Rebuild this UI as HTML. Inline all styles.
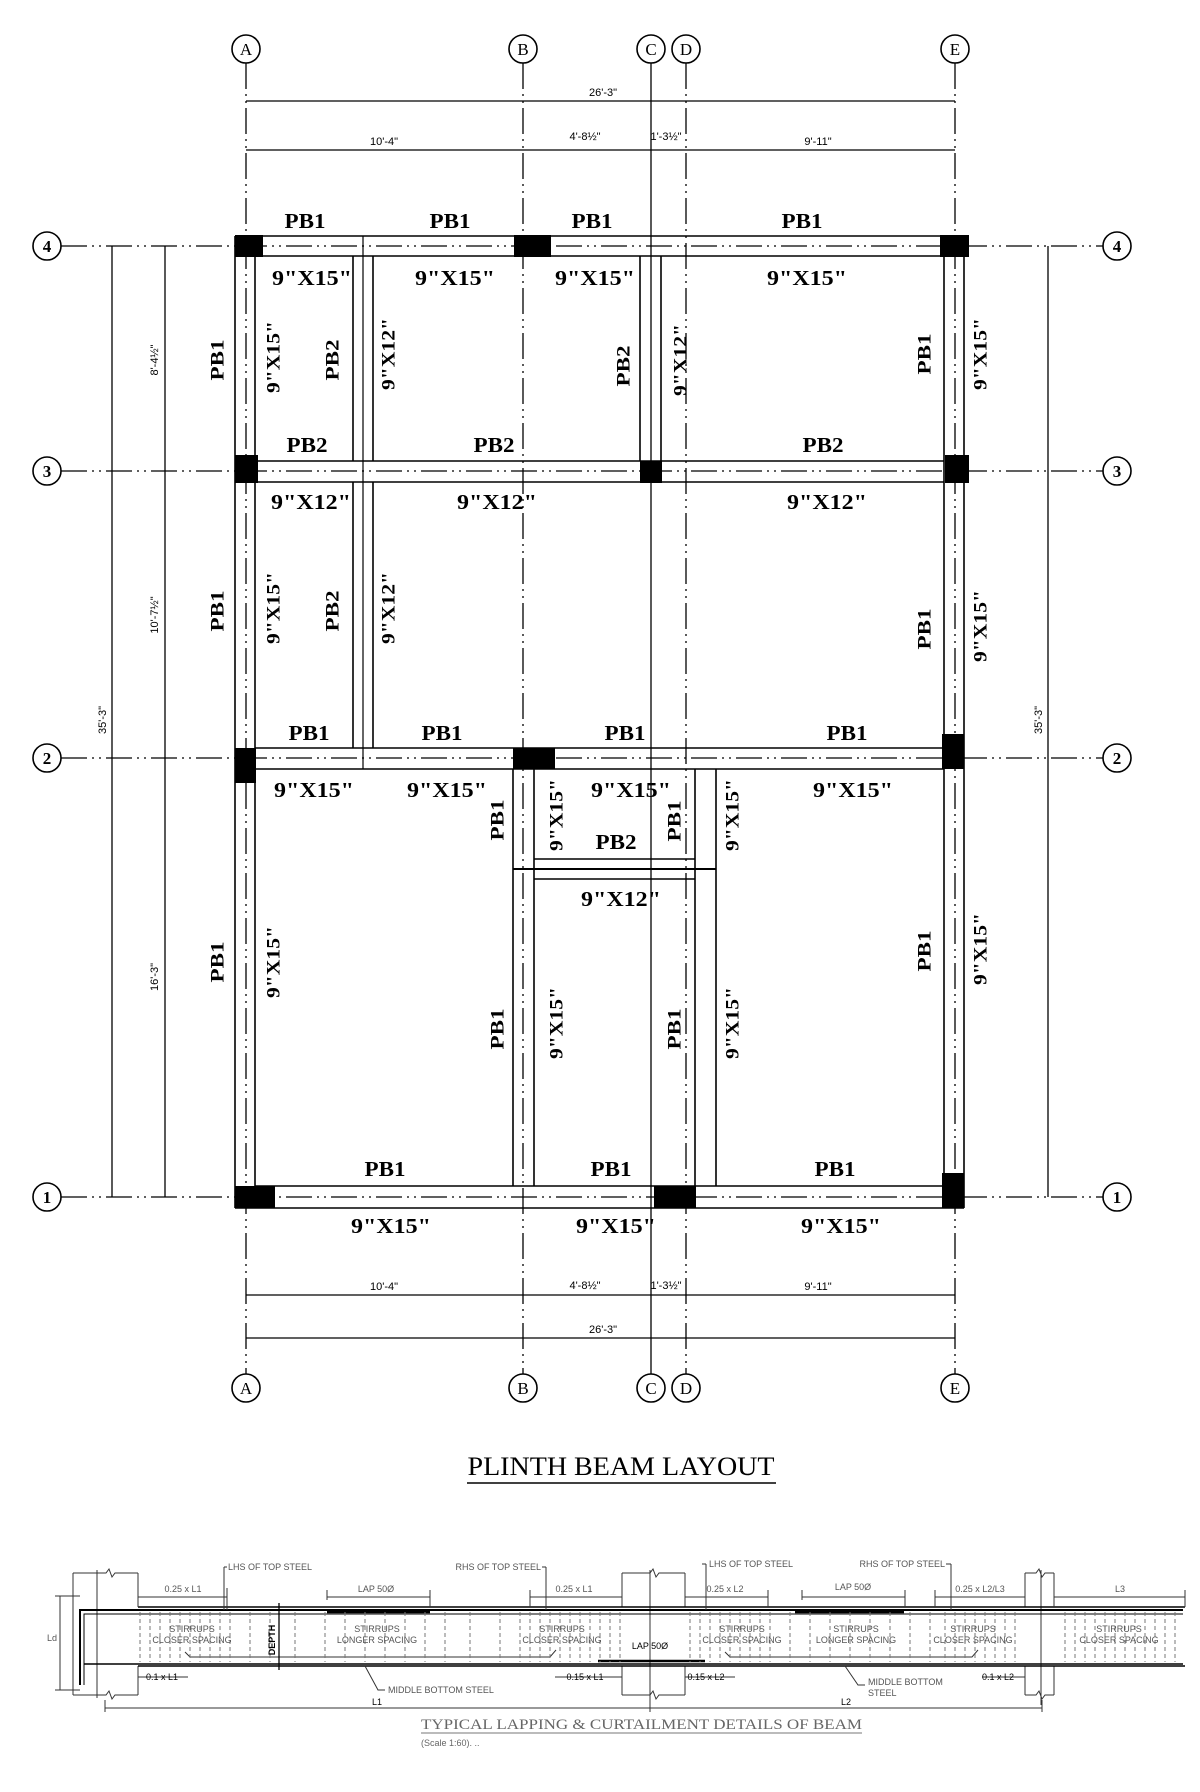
<!DOCTYPE html>
<html><head><meta charset="utf-8"><style>
html,body{margin:0;padding:0;background:#fff;}
svg{display:block;}
.b{font-family:"Liberation Serif",serif;font-weight:bold;fill:#000;}
.d{font-family:"Liberation Sans",sans-serif;fill:#000;font-size:11px;}
.s{font-family:"Liberation Sans",sans-serif;fill:#555;font-size:9px;}
</style></head><body>
<svg width="1200" height="1792" viewBox="0 0 1200 1792" xmlns="http://www.w3.org/2000/svg">
<rect width="1200" height="1792" fill="#fff"/>
<g stroke="#000" stroke-width="1.3" fill="none" stroke-dasharray="26 5 2 5 2 5">
<line x1="246" y1="63" x2="246" y2="1374"/>
<line x1="523" y1="63" x2="523" y2="1374"/>
<line x1="686" y1="63" x2="686" y2="1374"/>
<line x1="955" y1="63" x2="955" y2="1374"/>
<line x1="61" y1="246" x2="1103" y2="246"/>
<line x1="61" y1="471" x2="1103" y2="471"/>
<line x1="61" y1="758" x2="1103" y2="758"/>
<line x1="61" y1="1197" x2="1103" y2="1197"/>
</g>
<line x1="651" y1="63" x2="651" y2="1374" stroke="#000" stroke-width="1.3"/>
<g stroke="#000" stroke-width="1.6" fill="#fff">
<circle cx="246" cy="49" r="14"/><circle cx="523" cy="49" r="14"/><circle cx="651" cy="49" r="14"/><circle cx="686" cy="49" r="14"/><circle cx="955" cy="49" r="14"/>
<circle cx="246" cy="1388" r="14"/><circle cx="523" cy="1388" r="14"/><circle cx="651" cy="1388" r="14"/><circle cx="686" cy="1388" r="14"/><circle cx="955" cy="1388" r="14"/>
<circle cx="47" cy="246" r="14"/><circle cx="47" cy="471" r="14"/><circle cx="47" cy="758" r="14"/><circle cx="47" cy="1197" r="14"/>
<circle cx="1117" cy="246" r="14"/><circle cx="1117" cy="471" r="14"/><circle cx="1117" cy="758" r="14"/><circle cx="1117" cy="1197" r="14"/>
</g>
<g class="b" font-size="17" text-anchor="middle" style="font-weight:normal">
<text x="246" y="55">A</text><text x="523" y="55">B</text><text x="651" y="55">C</text><text x="686" y="55">D</text><text x="955" y="55">E</text>
<text x="246" y="1394">A</text><text x="523" y="1394">B</text><text x="651" y="1394">C</text><text x="686" y="1394">D</text><text x="955" y="1394">E</text>
</g>
<g class="b" font-size="17" text-anchor="middle">
<text x="47" y="252">4</text><text x="47" y="477">3</text><text x="47" y="764">2</text><text x="47" y="1203">1</text>
<text x="1117" y="252">4</text><text x="1117" y="477">3</text><text x="1117" y="764">2</text><text x="1117" y="1203">1</text>
</g>
<g stroke="#000" stroke-width="1.3">
<line x1="246" y1="101" x2="955" y2="101"/><line x1="246" y1="150" x2="955" y2="150"/>
<line x1="246" y1="1295" x2="955" y2="1295"/><line x1="246" y1="1338" x2="955" y2="1338"/>
<line x1="112" y1="246" x2="112" y2="1197"/><line x1="165" y1="246" x2="165" y2="1197"/>
<line x1="1048" y1="246" x2="1048" y2="1197"/>
</g>
<g class="d" text-anchor="middle">
<text x="603" y="96">26'-3"</text>
<text x="384" y="145">10'-4"</text><text x="585" y="140">4'-8½"</text><text x="666" y="140">1'-3½"</text><text x="818" y="145">9'-11"</text>
<text x="384" y="1290">10'-4"</text><text x="585" y="1289">4'-8½"</text><text x="666" y="1289">1'-3½"</text><text x="818" y="1290">9'-11"</text>
<text x="603" y="1333">26'-3"</text>
<text transform="translate(158,360) rotate(-90)">8'-4½"</text>
<text transform="translate(158,615) rotate(-90)">10'-7½"</text>
<text transform="translate(158,977) rotate(-90)">16'-3"</text>
<text transform="translate(106,720) rotate(-90)">35'-3"</text>
<text transform="translate(1042,720) rotate(-90)">35'-3"</text>
</g>
<g stroke="#000" stroke-width="1.6" fill="none">
<line x1="235" y1="236" x2="969" y2="236"/><line x1="255" y1="256" x2="944" y2="256"/>
<line x1="255" y1="461" x2="944" y2="461"/><line x1="255" y1="482" x2="944" y2="482"/>
<line x1="255" y1="748" x2="944" y2="748"/><line x1="255" y1="769" x2="944" y2="769"/>
<line x1="255" y1="1186" x2="944" y2="1186"/><line x1="235" y1="1208" x2="964" y2="1208"/>
<line x1="534" y1="859" x2="695" y2="859"/><line x1="534" y1="879" x2="695" y2="879"/>
<line x1="513" y1="869" x2="716" y2="869" stroke-width="2"/>
<line x1="235" y1="236" x2="235" y2="1208"/><line x1="255" y1="256" x2="255" y2="1186"/>
<line x1="944" y1="256" x2="944" y2="1186"/><line x1="964" y1="236" x2="964" y2="1208"/>
<line x1="353" y1="256" x2="353" y2="461"/><line x1="373" y1="256" x2="373" y2="461"/>
<line x1="353" y1="482" x2="353" y2="748"/><line x1="373" y1="482" x2="373" y2="748"/>
<line x1="363" y1="236" x2="363" y2="769" stroke-width="1.2"/>
<line x1="640" y1="256" x2="640" y2="461"/><line x1="661" y1="256" x2="661" y2="461"/>
<line x1="513" y1="769" x2="513" y2="1186"/><line x1="534" y1="769" x2="534" y2="1186"/>
<line x1="695" y1="769" x2="695" y2="1186"/><line x1="716" y1="769" x2="716" y2="1186"/>
</g>
<g fill="#000">
<rect x="235" y="235" width="28" height="22"/><rect x="514" y="235" width="37" height="22"/><rect x="940" y="235" width="29" height="22"/>
<rect x="235" y="455" width="23" height="28"/><rect x="640" y="461" width="22" height="22"/><rect x="945" y="455" width="24" height="28"/>
<rect x="235" y="748" width="21" height="35"/><rect x="513" y="748" width="42" height="21"/><rect x="942" y="734" width="22" height="35"/>
<rect x="235" y="1186" width="40" height="22"/><rect x="654" y="1186" width="42" height="22"/><rect x="942" y="1173" width="22" height="35"/>
</g>
<g class="b" font-size="21" text-anchor="middle">
<text x="305" y="228" textLength="41" lengthAdjust="spacingAndGlyphs">PB1</text>
<text x="450" y="228" textLength="41" lengthAdjust="spacingAndGlyphs">PB1</text>
<text x="592" y="228" textLength="41" lengthAdjust="spacingAndGlyphs">PB1</text>
<text x="802" y="228" textLength="41" lengthAdjust="spacingAndGlyphs">PB1</text>
<text x="312" y="285" textLength="80" lengthAdjust="spacingAndGlyphs">9"X15"</text>
<text x="455" y="285" textLength="80" lengthAdjust="spacingAndGlyphs">9"X15"</text>
<text x="595" y="285" textLength="80" lengthAdjust="spacingAndGlyphs">9"X15"</text>
<text x="807" y="285" textLength="80" lengthAdjust="spacingAndGlyphs">9"X15"</text>
<text x="307" y="452" textLength="41" lengthAdjust="spacingAndGlyphs">PB2</text>
<text x="494" y="452" textLength="41" lengthAdjust="spacingAndGlyphs">PB2</text>
<text x="823" y="452" textLength="41" lengthAdjust="spacingAndGlyphs">PB2</text>
<text x="311" y="509" textLength="80" lengthAdjust="spacingAndGlyphs">9"X12"</text>
<text x="497" y="509" textLength="80" lengthAdjust="spacingAndGlyphs">9"X12"</text>
<text x="827" y="509" textLength="80" lengthAdjust="spacingAndGlyphs">9"X12"</text>
<text x="309" y="740" textLength="41" lengthAdjust="spacingAndGlyphs">PB1</text>
<text x="442" y="740" textLength="41" lengthAdjust="spacingAndGlyphs">PB1</text>
<text x="625" y="740" textLength="41" lengthAdjust="spacingAndGlyphs">PB1</text>
<text x="847" y="740" textLength="41" lengthAdjust="spacingAndGlyphs">PB1</text>
<text x="314" y="797" textLength="80" lengthAdjust="spacingAndGlyphs">9"X15"</text>
<text x="447" y="797" textLength="80" lengthAdjust="spacingAndGlyphs">9"X15"</text>
<text x="631" y="797" textLength="80" lengthAdjust="spacingAndGlyphs">9"X15"</text>
<text x="853" y="797" textLength="80" lengthAdjust="spacingAndGlyphs">9"X15"</text>
<text x="616" y="849" textLength="41" lengthAdjust="spacingAndGlyphs">PB2</text>
<text x="621" y="906" textLength="80" lengthAdjust="spacingAndGlyphs">9"X12"</text>
<text x="385" y="1176" textLength="41" lengthAdjust="spacingAndGlyphs">PB1</text>
<text x="611" y="1176" textLength="41" lengthAdjust="spacingAndGlyphs">PB1</text>
<text x="835" y="1176" textLength="41" lengthAdjust="spacingAndGlyphs">PB1</text>
<text x="391" y="1233" textLength="80" lengthAdjust="spacingAndGlyphs">9"X15"</text>
<text x="616" y="1233" textLength="80" lengthAdjust="spacingAndGlyphs">9"X15"</text>
<text x="841" y="1233" textLength="80" lengthAdjust="spacingAndGlyphs">9"X15"</text>
</g>
<g class="b" font-size="19" text-anchor="middle" dominant-baseline="central">
<text transform="translate(218,360) rotate(-90)" textLength="41" lengthAdjust="spacingAndGlyphs">PB1</text>
<text transform="translate(274,357) rotate(-90)" textLength="72" lengthAdjust="spacingAndGlyphs">9"X15"</text>
<text transform="translate(333,360) rotate(-90)" textLength="41" lengthAdjust="spacingAndGlyphs">PB2</text>
<text transform="translate(389,354) rotate(-90)" textLength="72" lengthAdjust="spacingAndGlyphs">9"X12"</text>
<text transform="translate(624,366) rotate(-90)" textLength="41" lengthAdjust="spacingAndGlyphs">PB2</text>
<text transform="translate(681,360) rotate(-90)" textLength="72" lengthAdjust="spacingAndGlyphs">9"X12"</text>
<text transform="translate(925,354) rotate(-90)" textLength="41" lengthAdjust="spacingAndGlyphs">PB1</text>
<text transform="translate(981,354) rotate(-90)" textLength="72" lengthAdjust="spacingAndGlyphs">9"X15"</text>
<text transform="translate(218,611) rotate(-90)" textLength="41" lengthAdjust="spacingAndGlyphs">PB1</text>
<text transform="translate(274,608) rotate(-90)" textLength="72" lengthAdjust="spacingAndGlyphs">9"X15"</text>
<text transform="translate(333,611) rotate(-90)" textLength="41" lengthAdjust="spacingAndGlyphs">PB2</text>
<text transform="translate(389,608) rotate(-90)" textLength="72" lengthAdjust="spacingAndGlyphs">9"X12"</text>
<text transform="translate(925,629) rotate(-90)" textLength="41" lengthAdjust="spacingAndGlyphs">PB1</text>
<text transform="translate(981,626) rotate(-90)" textLength="72" lengthAdjust="spacingAndGlyphs">9"X15"</text>
<text transform="translate(498,820) rotate(-90)" textLength="41" lengthAdjust="spacingAndGlyphs">PB1</text>
<text transform="translate(557,815) rotate(-90)" textLength="72" lengthAdjust="spacingAndGlyphs">9"X15"</text>
<text transform="translate(675,821) rotate(-90)" textLength="41" lengthAdjust="spacingAndGlyphs">PB1</text>
<text transform="translate(733,815) rotate(-90)" textLength="72" lengthAdjust="spacingAndGlyphs">9"X15"</text>
<text transform="translate(218,962) rotate(-90)" textLength="41" lengthAdjust="spacingAndGlyphs">PB1</text>
<text transform="translate(274,962) rotate(-90)" textLength="72" lengthAdjust="spacingAndGlyphs">9"X15"</text>
<text transform="translate(498,1029) rotate(-90)" textLength="41" lengthAdjust="spacingAndGlyphs">PB1</text>
<text transform="translate(557,1023) rotate(-90)" textLength="72" lengthAdjust="spacingAndGlyphs">9"X15"</text>
<text transform="translate(675,1029) rotate(-90)" textLength="41" lengthAdjust="spacingAndGlyphs">PB1</text>
<text transform="translate(733,1023) rotate(-90)" textLength="72" lengthAdjust="spacingAndGlyphs">9"X15"</text>
<text transform="translate(925,951) rotate(-90)" textLength="41" lengthAdjust="spacingAndGlyphs">PB1</text>
<text transform="translate(981,949) rotate(-90)" textLength="72" lengthAdjust="spacingAndGlyphs">9"X15"</text>
</g>
<text x="621" y="1475" font-family="Liberation Serif,serif" font-size="26" text-anchor="middle" textLength="307" lengthAdjust="spacingAndGlyphs">PLINTH BEAM LAYOUT</text>
<line x1="467" y1="1483" x2="776" y2="1483" stroke="#000" stroke-width="1.5"/>

<g stroke="#333" stroke-width="1" fill="none">
<path d="M73 1573 H106 l3 -4 l3 8 l3 -4 H138 M73 1695 H106 l3 -4 l3 8 l3 -4 H138 M73 1573 V1695 M138 1573 V1607 M138 1666 V1695"/>
<path d="M622 1573 H650 l3 -4 l3 8 l3 -4 H685 M622 1695 H650 l3 -4 l3 8 l3 -4 H685 M622 1573 V1607 M685 1573 V1607 M622 1666 V1695 M685 1666 V1695"/>
<path d="M1025 1573 H1036 l3 -4 l3 8 l3 -4 H1054 M1025 1695 H1036 l3 -4 l3 8 l3 -4 H1054 M1025 1573 V1607 M1054 1573 V1607 M1025 1666 V1695 M1054 1666 V1695"/>
<line x1="97" y1="1570" x2="97" y2="1698"/><line x1="650" y1="1570" x2="650" y2="1700"/><line x1="1041" y1="1570" x2="1041" y2="1705"/>
<line x1="138" y1="1607" x2="1185" y2="1607" stroke="#000" stroke-width="1.5"/>
<line x1="138" y1="1666" x2="1185" y2="1666" stroke="#000" stroke-width="1.5"/>
<path d="M80 1685 V1610 H1183" stroke="#000" stroke-width="2"/>
<path d="M84 1685 V1614 H1183" stroke="#000" stroke-width="1"/>
<path d="M84 1664 H1183" stroke="#000" stroke-width="1.5"/>
<line x1="327" y1="1612" x2="430" y2="1612" stroke="#000" stroke-width="2.5"/>
<line x1="795" y1="1612" x2="904" y2="1612" stroke="#000" stroke-width="2.5"/>
<line x1="598" y1="1661" x2="705" y2="1661" stroke="#000" stroke-width="2.5"/>
<path d="M185 1652 L190 1657 H550 L556 1650"/>
<path d="M725 1652 L730 1657 H972 L978 1650"/>
<g stroke="#777" stroke-dasharray="4 3">
<path d="M140 1612V1662M150 1612V1662M160 1612V1662M170 1612V1662M180 1612V1662M190 1612V1662M200 1612V1662M210 1612V1662M220 1612V1662M230 1612V1662M250 1612V1662M270 1612V1662M295 1612V1662M325 1612V1662M345 1612V1662M365 1612V1662M385 1612V1662M405 1612V1662M425 1612V1662M445 1612V1662M470 1612V1662M500 1612V1662M520 1612V1662M530 1612V1662M540 1612V1662M550 1612V1662M560 1612V1662M570 1612V1662M580 1612V1662M590 1612V1662M600 1612V1662M610 1612V1662M620 1612V1662"/>
<path d="M690 1612V1662M700 1612V1662M710 1612V1662M720 1612V1662M730 1612V1662M740 1612V1662M750 1612V1662M760 1612V1662M770 1612V1662M790 1612V1662M810 1612V1662M830 1612V1662M850 1612V1662M870 1612V1662M890 1612V1662M910 1612V1662M930 1612V1662M945 1612V1662M955 1612V1662M965 1612V1662M975 1612V1662M985 1612V1662M995 1612V1662M1005 1612V1662M1015 1612V1662"/>
<path d="M1065 1612V1662M1075 1612V1662M1085 1612V1662M1095 1612V1662M1105 1612V1662M1115 1612V1662M1125 1612V1662M1135 1612V1662M1145 1612V1662M1155 1612V1662M1165 1612V1662M1175 1612V1662"/>
</g>
<line x1="279" y1="1603" x2="279" y2="1670" stroke="#000" stroke-width="1.3"/>
<path d="M138 1597 H227 M327 1597 H430 M530 1597 H622 M685 1597 H768 M802 1597 H905 M935 1597 H1025 M1054 1597 H1185"/>
<path d="M138 1597V1607 M227 1588V1610 M327 1590V1600 M430 1590V1607 M530 1590V1607 M768 1590V1607 M802 1590V1600 M905 1590V1607 M935 1590V1607 M1054 1597V1607 M1185 1590V1607"/>
<path d="M224 1567 H227 M224 1567 V1610 M546 1567 V1610 M542 1567 H546 M706 1564 V1610 M702 1564 H706 M946 1564 H951 M951 1564 V1610"/>
<path d="M138 1677 H188 M555 1677 H622 M685 1677 H735 M982 1677 H1025"/>
<path d="M105 1708 H1042 M105 1700V1712 M650 1700V1712 M1042 1700V1712"/>
<path d="M60 1596 V1690 M55 1596 H80 M55 1690 H80"/>
<path d="M365 1666 L378 1690 H385 M845 1666 L858 1685 H865"/>
</g>
<g class="s">
<text x="228" y="1570">LHS OF TOP STEEL</text>
<text x="541" y="1570" text-anchor="end">RHS OF TOP STEEL</text>
<text x="709" y="1567">LHS OF TOP STEEL</text>
<text x="945" y="1567" text-anchor="end">RHS OF TOP STEEL</text>
<text x="183" y="1592" text-anchor="middle">0.25 x L1</text>
<text x="376" y="1592" text-anchor="middle">LAP 50Ø</text>
<text x="574" y="1592" text-anchor="middle">0.25 x L1</text>
<text x="725" y="1592" text-anchor="middle">0.25 x L2</text>
<text x="853" y="1590" text-anchor="middle">LAP 50Ø</text>
<text x="980" y="1592" text-anchor="middle">0.25 x L2/L3</text>
<text x="1120" y="1592" text-anchor="middle">L3</text>
<text x="192" y="1632" text-anchor="middle">STIRRUPS</text><text x="192" y="1643" text-anchor="middle">CLOSER SPACING</text>
<text x="377" y="1632" text-anchor="middle">STIRRUPS</text><text x="377" y="1643" text-anchor="middle">LONGER SPACING</text>
<text x="562" y="1632" text-anchor="middle">STIRRUPS</text><text x="562" y="1643" text-anchor="middle">CLOSER SPACING</text>
<text x="742" y="1632" text-anchor="middle">STIRRUPS</text><text x="742" y="1643" text-anchor="middle">CLOSER SPACING</text>
<text x="856" y="1632" text-anchor="middle">STIRRUPS</text><text x="856" y="1643" text-anchor="middle">LONGER SPACING</text>
<text x="973" y="1632" text-anchor="middle">STIRRUPS</text><text x="973" y="1643" text-anchor="middle">CLOSER SPACING</text>
<text x="1119" y="1632" text-anchor="middle">STIRRUPS</text><text x="1119" y="1643" text-anchor="middle">CLOSER SPACING</text>
<text x="650" y="1649" text-anchor="middle" fill="#000">LAP 50Ø</text>
<text transform="translate(275,1640) rotate(-90)" text-anchor="middle" fill="#000" font-weight="bold">DEPTH</text>
<text x="52" y="1641" text-anchor="middle">Ld</text>
<text x="162" y="1680" text-anchor="middle" fill="#000">0.1 x L1</text>
<text x="585" y="1680" text-anchor="middle" fill="#000">0.15 x L1</text>
<text x="706" y="1680" text-anchor="middle" fill="#000">0.15 x L2</text>
<text x="998" y="1680" text-anchor="middle" fill="#000">0.1 x L2</text>
<text x="388" y="1693">MIDDLE BOTTOM STEEL</text>
<text x="868" y="1685">MIDDLE BOTTOM</text><text x="868" y="1696">STEEL</text>
<text x="377" y="1705" text-anchor="middle" fill="#000">L1</text>
<text x="846" y="1705" text-anchor="middle" fill="#000">L2</text>
</g>
<text x="421" y="1729" font-family="Liberation Serif,serif" font-size="15" fill="#666" textLength="441" lengthAdjust="spacingAndGlyphs">TYPICAL LAPPING &amp; CURTAILMENT DETAILS OF BEAM</text>
<line x1="421" y1="1733" x2="862" y2="1733" stroke="#777" stroke-width="1"/>
<text x="421" y="1746" font-family="Liberation Sans,sans-serif" font-size="9" fill="#666">(Scale 1:60). ..</text>
</svg>
</body></html>
